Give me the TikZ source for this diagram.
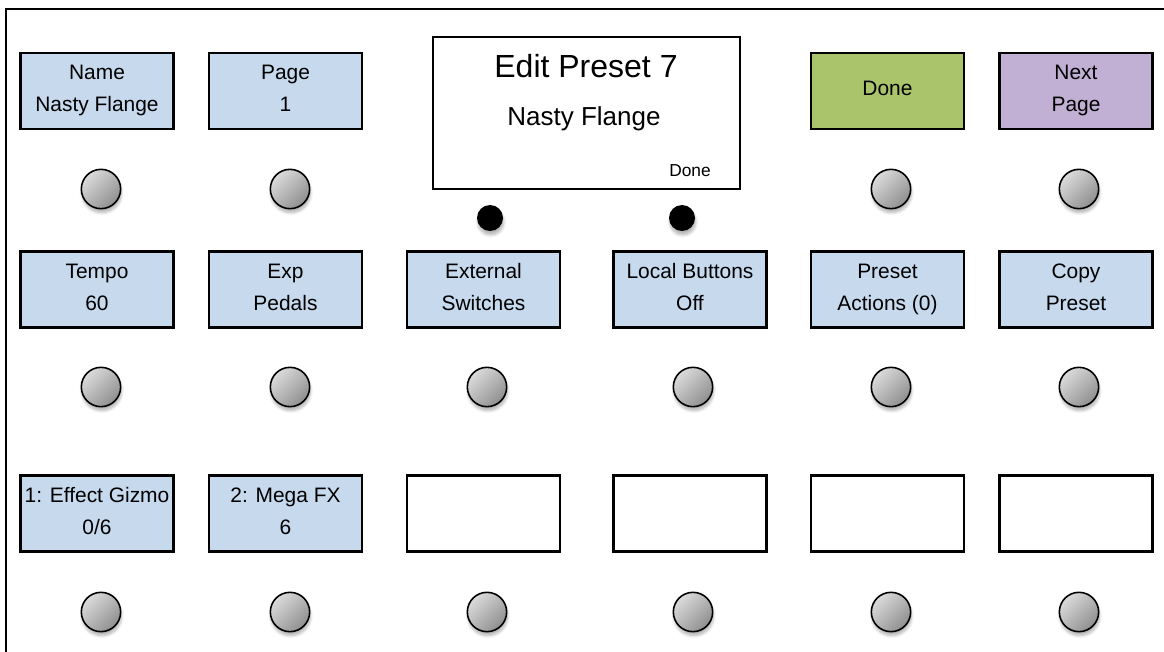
\documentclass[tikz,border=0pt]{standalone}
\usepackage{fontspec}
\setmainfont{Liberation Sans}
\usetikzlibrary{shadows.blur}
\definecolor{keyblue}{RGB}{198,217,237}
\definecolor{donegreen}{RGB}{169,196,107}
\definecolor{pagepurple}{RGB}{193,176,211}
\tikzset{
  keybox/.style={draw, line width=1.7pt, fill=keyblue, minimum width=114.75pt, minimum height=57pt,
    inner sep=0pt, align=center, text height=35pt, text depth=3.5pt, font=\fontsize{15.7}{24}\selectfont},
  knob/.style={circle, draw, line width=1.2pt, minimum size=29.5pt, inner sep=0pt,
    top color=black!14, bottom color=black!44, shading angle=45,
    blur shadow={shadow xshift=0.6pt, shadow yshift=-3pt, shadow blur steps=6, shadow opacity=30}},
  blackdot/.style={circle, fill=black, minimum size=19.5pt, inner sep=0pt,
    blur shadow={shadow xshift=0.6pt, shadow yshift=-3pt, shadow blur steps=6, shadow opacity=30}},
}
\begin{document}
\begin{tikzpicture}[x=0.75pt, y=-0.75pt]
                        \useasboundingbox (0,0) rectangle (1164,652);
                        \draw[line width=2.2pt] (6,652) -- (6,9) -- (1164,9);
                        % display
                        \node[draw, line width=1.6pt, fill=white, minimum width=230.25pt, minimum height=114pt] (screen) at (586.5,113) {};
                        \node[font=\fontsize{24}{24}\selectfont] (title) at (586,66) {Edit Preset 7};
                        \node[font=\fontsize{19.5}{20}\selectfont] (preset) at (584,119) {Nasty Flange};
                        \node[font=\fontsize{13}{13}\selectfont] (softkey) at (690,171) {Done};
                        \node[blackdot] (dotl) at (490,218) {};
                        \node[blackdot] (dotr) at (682,218) {};
                        % top row
                        \node[keybox] (b11) at (97,91) {Name\\Nasty Flange};
                        \node[keybox] (b12) at (285.5,91) {Page\\1};
                        \node[keybox, fill=donegreen, text height=11pt] (b15) at (887.5,91) {Done};
                        \node[keybox, fill=pagepurple] (b16) at (1076,91) {Next\\Page};
                        % middle row
                        \node[keybox] (b21) at (97,289.5) {Tempo\\60};
                        \node[keybox] (b22) at (285.5,289.5) {Exp\\Pedals};
                        \node[keybox] (b23) at (483.5,289.5) {External\\Switches};
                        \node[keybox] (b24) at (690,289.5) {Local Buttons\\Off};
                        \node[keybox] (b25) at (887.5,289.5) {Preset\\Actions (0)};
                        \node[keybox] (b26) at (1076,289.5) {Copy\\Preset};
                        % bottom row
                        \node[keybox] (b31) at (97,513.5) {1: Effect Gizmo\\0/6};
                        \node[keybox] (b32) at (285.5,513.5) {2: Mega FX\\6};
                        \node[keybox, fill=white] (b33) at (483.5,513.5) {};
                        \node[keybox, fill=white] (b34) at (690,513.5) {};
                        \node[keybox, fill=white] (b35) at (887.5,513.5) {};
                        \node[keybox, fill=white] (b36) at (1076,513.5) {};
                        % knobs
                        \node[knob] (k11) at (101,189) {};
                        \node[knob] (k12) at (290,189) {};
                        \node[knob] (k15) at (891,189) {};
                        \node[knob] (k16) at (1079,189) {};
                        \node[knob] (k21) at (101,387) {};
                        \node[knob] (k22) at (290,387) {};
                        \node[knob] (k23) at (487,387) {};
                        \node[knob] (k24) at (693,387) {};
                        \node[knob] (k25) at (891,387) {};
                        \node[knob] (k26) at (1079,387) {};
                        \node[knob] (k31) at (101,612) {};
                        \node[knob] (k32) at (290,612) {};
                        \node[knob] (k33) at (487,612) {};
                        \node[knob] (k34) at (693,612) {};
                        \node[knob] (k35) at (891,612) {};
                        \node[knob] (k36) at (1079,612) {};
                    \end{tikzpicture}
\end{document}
